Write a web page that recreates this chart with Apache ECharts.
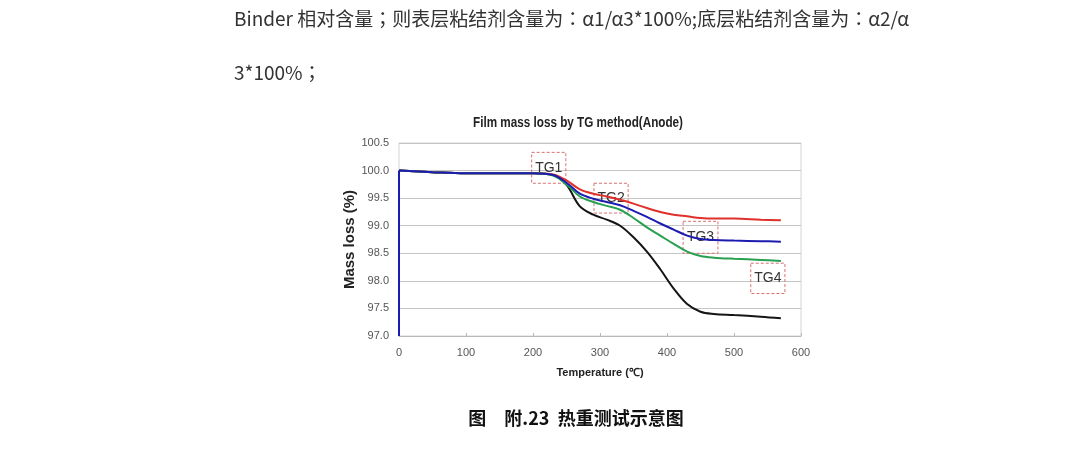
<!DOCTYPE html>
<html lang="zh">
<head>
  <meta charset="utf-8">
</head>
<body style="margin: 0; background: #fff">
  <div id="container" style="width: 1080px; height: 459px"></div>

  <script type="text/javascript" src="https://cdn.jsdelivr.net/npm/echarts@6/dist/echarts.min.js"></script>

  <script type="text/javascript">
    var dom = document.getElementById('container');
    var myChart = echarts.init(dom, null, { renderer: 'canvas' });

    // temperature (℃)
    const temps = [0, 50, 100, 150, 200, 230, 250, 270, 290, 310, 330, 350, 370, 390, 410, 430, 450, 470, 500, 540, 570];
    // mass loss (%) for each sample
    const redVals   = [100.0, 99.97, 99.95, 99.95, 99.95, 99.93, 99.82, 99.66, 99.58, 99.53, 99.47, 99.40, 99.32, 99.25, 99.20, 99.17, 99.14, 99.13, 99.13, 99.11, 99.10];
    const blueVals  = [100.0, 99.97, 99.95, 99.95, 99.95, 99.92, 99.78, 99.58, 99.49, 99.43, 99.37, 99.27, 99.16, 99.04, 98.93, 98.82, 98.76, 98.74, 98.73, 98.72, 98.71];
    const greenVals = [100.0, 99.97, 99.95, 99.95, 99.95, 99.91, 99.75, 99.53, 99.43, 99.36, 99.29, 99.14, 98.97, 98.82, 98.67, 98.53, 98.45, 98.42, 98.40, 98.38, 98.36];
    const blackVals = [100.0, 99.97, 99.95, 99.95, 99.95, 99.92, 99.74, 99.35, 99.20, 99.11, 99.00, 98.79, 98.53, 98.21, 97.86, 97.58, 97.44, 97.40, 97.38, 97.35, 97.32];
    // blue trace starts at the bottom of the axis at 0 ℃
    const blueStart = 97.0;

    // TG marker boxes (data coordinates)
    const tgLabels = ['TG1', 'TG2', 'TG3', 'TG4'];
    const tgX0 = [198, 291, 424, 525];
    const tgX1 = [249, 342, 476, 576];
    const tgY0 = [100.33, 99.77, 99.08, 98.32];
    const tgY1 = [99.77, 99.23, 98.50, 97.77];

    const latin = '"Liberation Sans", Arial, sans-serif';
    // JP face centres the full-width ；like the scanned page
    const cjk = '"Noto Sans CJK JP", "Noto Sans CJK SC", sans-serif';
    const cjkSC = '"Noto Sans CJK SC", sans-serif';

    function pairs(vals) {
      return temps.map(function (t, i) { return [t, vals[i]]; });
    }

    const tgAreas = tgLabels.map(function (name, i) {
      return [{ name: name, coord: [tgX0[i], tgY0[i]] }, { coord: [tgX1[i], tgY1[i]] }];
    });

    function line(name, color, vals, extra) {
      return Object.assign({
        name: name,
        type: 'line',
        data: pairs(vals),
        smooth: 0.35,
        showSymbol: false,
        symbol: 'none',
        lineStyle: { color: color, width: 2 },
        itemStyle: { color: color }
      }, extra || {});
    }

    var option = {
      backgroundColor: '#fff',
      animation: false,
      grid: {
        left: 399,
        top: 143,
        width: 402,
        height: 193,
        show: true,
        borderColor: '#d4d4d4',
        borderWidth: 1,
        containLabel: false
      },
      xAxis: {
        type: 'value',
        min: 0,
        max: 600,
        interval: 100,
        name: 'Temperature (℃)',
        nameLocation: 'middle',
        nameGap: 31,
        nameTextStyle: { fontFamily: latin, fontWeight: 'bold', fontSize: 11, color: '#222' },
        axisLine: { show: true, lineStyle: { color: '#b8b8b8' } },
        axisTick: { show: true, inside: true, length: 3, lineStyle: { color: '#b8b8b8' } },
        axisLabel: { fontFamily: latin, fontSize: 11, color: '#555', margin: 11 },
        splitLine: { show: false }
      },
      yAxis: {
        type: 'value',
        min: 97,
        max: 100.5,
        interval: 0.5,
        name: 'Mass loss (%)',
        nameLocation: 'middle',
        nameGap: 38,
        nameTextStyle: { fontFamily: latin, fontWeight: 'bold', fontSize: 15, color: '#222' },
        axisLine: { show: false },
        axisTick: { show: false },
        axisLabel: {
          fontFamily: latin, fontSize: 11, color: '#555', margin: 10,
          formatter: function (v) { return v.toFixed(1); }
        },
        splitLine: { show: true, lineStyle: { color: '#c4c4c4', width: 1 } }
      },
      series: [
        line('black', '#151515', blackVals),
        line('red', '#e0302a', redVals, {
          markArea: {
            silent: true,
            itemStyle: {
              color: 'rgba(0,0,0,0)',
              borderColor: '#d87070',
              borderType: [3, 2],
              borderWidth: 1
            },
            label: {
              show: true,
              position: 'inside',
              fontFamily: latin,
              fontSize: 14,
              color: '#333'
            },
            data: tgAreas
          }
        }),
        line('green', '#28a050', greenVals),
        line('blue', '#1c1cb0', blueVals, {
          markLine: {
            silent: true,
            symbol: 'none',
            label: { show: false },
            lineStyle: { color: '#1c1cb0', width: 2, type: 'solid' },
            data: [[{ coord: [0, blueStart] }, { coord: [0, blueVals[0]] }]]
          }
        })
      ],
      graphic: {
        elements: [
          {
            type: 'text', left: 234, top: 9,
            style: {
              text: 'Binder 相对含量；则表层粘结剂含量为{c|：}α1/α3*100%;底层粘结剂含量为{c|：}α2/α',
              font: '19px ' + cjk, fill: '#333',
              rich: {
                c: { fontSize: 19, fontFamily: cjk, color: '#333' }
              }
            }
          },
          {
            type: 'text', left: 234, top: 63,
            style: { text: '3*100%；', font: '19px ' + cjk, fill: '#333' }
          },
          {
            type: 'text', x: 578, y: 123, scaleX: 0.78,
            style: {
              text: 'Film mass loss by TG method(Anode)',
              font: 'bold 15px ' + latin, fill: '#222',
              align: 'center', verticalAlign: 'middle'
            }
          },
          {
            type: 'text', x: 576, y: 418,
            style: {
              text: '图　附.23  热重测试示意图',
              font: 'bold 18px ' + cjkSC, fill: '#111',
              align: 'center', verticalAlign: 'middle'
            }
          }
        ]
      }
    };

    myChart.setOption(option);
    window.addEventListener('resize', myChart.resize);
  </script>
</body>
</html>
